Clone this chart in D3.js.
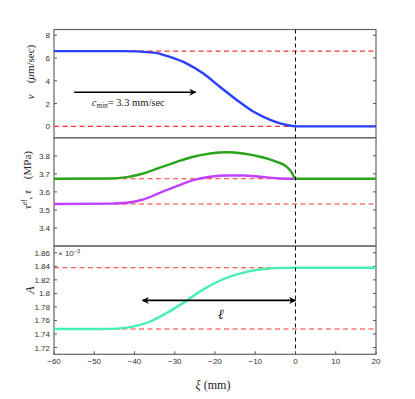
<!DOCTYPE html>
<html>
<head>
<meta charset="utf-8">
<script src="https://cdn.jsdelivr.net/npm/d3@7"></script>
<style>
  body { margin: 0; background: #fff; }
  .tick-label { font-family: 'Liberation Sans', Arial, sans-serif; font-size: 8px; fill: #333; }
  .math { font-family: 'Liberation Serif', 'DejaVu Serif', serif; fill: #222; }
</style>
</head>
<body>
<svg id="chart" width="415" height="399"></svg>
<script>
// positions along the wave, xi (mm)
var xiTicks = [-60, -50, -40, -30, -20, -10, 0, 10, 20];

// velocity v (um/sec)
var vXi = [-60, -43.6, -35.3, -31.2, -27.0, -22.9, -18.8, -14.6, -10.5, -6.3, -2.2, 0, 20];
var vVal = [6.6, 6.6, 6.47, 6.09, 5.51, 4.64, 3.48, 2.32, 1.30, 0.58, 0.12, 0, 0];
var vRefs = [6.6, 0];
var vTicks = [0, 2, 4, 6, 8];

// stresses tau^el (green) and tau (purple), MPa
var tauElXi = [-60, -46.1, -41.9, -37.8, -33.7, -29.5, -25.4, -21.2, -17.1, -13.0, -8.8, -4.7, -2.2, -0.9, 0, 20];
var tauElVal = [3.673, 3.674, 3.682, 3.702, 3.734, 3.767, 3.795, 3.813, 3.820, 3.813, 3.795, 3.767, 3.74, 3.706, 3.673, 3.673];
var tauXi = [-60, -46.1, -41.9, -37.8, -33.7, -29.5, -25.4, -21.2, -17.1, -13.0, -8.8, -4.7, 0];
var tauVal = [3.533, 3.535, 3.540, 3.558, 3.595, 3.632, 3.665, 3.684, 3.691, 3.691, 3.684, 3.676, 3.673];
var tauRefs = [3.673, 3.533];
var tauTicks = [3.4, 3.5, 3.6, 3.7, 3.8];

// A (x 10^-3)
var aXi = [-60, -48.6, -44.4, -40.3, -36.1, -32.0, -27.9, -23.7, -19.6, -15.4, -11.3, -7.2, -3.0, 0, 20];
var aVal = [1.7475, 1.7475, 1.748, 1.751, 1.7585, 1.771, 1.786, 1.803, 1.8165, 1.8265, 1.833, 1.8364, 1.8378, 1.838, 1.838];
var aRefs = [1.838, 1.7475];
var aTicks = [1.72, 1.74, 1.76, 1.78, 1.8, 1.82, 1.84, 1.86];

var svg = d3.select('#chart');

var left = 54, right = 376, plotTop = 29.5, panelH = 108.27;

var x = d3.scaleLinear().domain([-60, 20]).range([left, right]);

var panels = [
  {domain: [-1, 8.5], ticks: vTicks},
  {domain: [3.3, 3.9], ticks: tauTicks},
  {domain: [1.71, 1.87], ticks: aTicks}
];

panels.forEach((p, i) => {
  p.top = plotTop + i * panelH;
  p.y = d3.scaleLinear().domain(p.domain).range([p.top + panelH, p.top]);
});

var defs = svg.append('defs');
defs.append('marker')
  .attr('id', 'head')
  .attr('viewBox', '0 0 10 10')
  .attr('refX', 9).attr('refY', 5)
  .attr('markerWidth', 9).attr('markerHeight', 7)
  .attr('markerUnits', 'userSpaceOnUse')
  .attr('orient', 'auto-start-reverse')
  .append('path')
  .attr('d', 'M0,0 L10,5 L0,10 L3,5 Z')
  .attr('fill', '#000');

var line = (ys) => d3.line().x(d => x(d[0])).y(d => ys(d[1])).curve(d3.curveMonotoneX);
var zip = (a, b) => a.map((v, i) => [v, b[i]]);

function drawFrame(p)
{
  var g = svg.append('g');
  g.append('rect')
    .attr('x', left).attr('y', p.top)
    .attr('width', right - left).attr('height', panelH)
    .attr('fill', 'none').attr('stroke', '#666').attr('stroke-width', 1.2);

  p.ticks.forEach(t => {
    var yy = p.y(t);
    g.append('line').attr('x1', left).attr('x2', left + 3).attr('y1', yy).attr('y2', yy).attr('stroke', '#555');
    g.append('line').attr('x1', right - 3).attr('x2', right).attr('y1', yy).attr('y2', yy).attr('stroke', '#555');
    g.append('text').attr('class', 'tick-label')
      .attr('x', left - 4).attr('y', yy + 3)
      .attr('text-anchor', 'end')
      .text(d3.format('~g')(t).replace('-', '\u2212'));
  });
}

function drawRefs(p, refs)
{
  refs.forEach(r => {
    svg.append('line')
      .attr('x1', x(-60)).attr('x2', x(20))
      .attr('y1', p.y(r)).attr('y2', p.y(r))
      .attr('stroke', '#ff3333').attr('stroke-width', 1.1)
      .attr('stroke-dasharray', '5,3.5');
  });
}

function drawCurve(p, xs, vs, color)
{
  svg.append('path')
    .datum(zip(xs, vs))
    .attr('fill', 'none')
    .attr('stroke', color)
    .attr('stroke-width', 2.4)
    .attr('d', line(p.y));
}

panels.forEach(p => drawFrame(p));

drawRefs(panels[0], vRefs);
drawRefs(panels[1], tauRefs);
drawRefs(panels[2], aRefs);

drawCurve(panels[0], vXi, vVal, '#2b3fff');
drawCurve(panels[1], tauXi, tauVal, '#c040ff');
drawCurve(panels[1], tauElXi, tauElVal, '#2ca31c');
drawCurve(panels[2], aXi, aVal, '#45f0b0');

// front position
svg.append('line')
  .attr('x1', x(0)).attr('x2', x(0))
  .attr('y1', plotTop).attr('y2', plotTop + 3 * panelH)
  .attr('stroke', '#111').attr('stroke-width', 1)
  .attr('stroke-dasharray', '4,3');

// x axis ticks and labels
xiTicks.forEach(t => {
  var yb = plotTop + 3 * panelH;
  svg.append('line').attr('x1', x(t)).attr('x2', x(t)).attr('y1', yb).attr('y2', yb - 3).attr('stroke', '#555');
  svg.append('text').attr('class', 'tick-label')
    .attr('x', x(t)).attr('y', yb + 10)
    .attr('text-anchor', 'middle')
    .text(String(t).replace('-', '\u2212'));
});

// arrow c_min
var p0 = panels[0];
svg.append('line')
  .attr('x1', x(-55)).attr('x2', x(-24.8))
  .attr('y1', p0.y(3.0)).attr('y2', p0.y(3.0))
  .attr('stroke', '#000').attr('stroke-width', 1.6)
  .attr('marker-end', 'url(#head)');

var cmin = svg.append('text').attr('class', 'math')
  .attr('x', x(-50.6)).attr('y', p0.y(1.8))
  .attr('font-size', 10.5);
cmin.append('tspan').attr('font-style', 'italic').text('c');
cmin.append('tspan').attr('font-style', 'italic').attr('font-size', 7.5).attr('dy', 2).text('min');
cmin.append('tspan').attr('dy', -2).text('= 3.3 mm/sec');

// arrow ell
var p2 = panels[2];
svg.append('line')
  .attr('x1', x(-38)).attr('x2', x(0))
  .attr('y1', p2.y(1.7897)).attr('y2', p2.y(1.7897))
  .attr('stroke', '#000').attr('stroke-width', 1.6)
  .attr('marker-start', 'url(#head)')
  .attr('marker-end', 'url(#head)');

svg.append('text').attr('class', 'math')
  .attr('x', x(-18.5)).attr('y', p2.y(1.762))
  .attr('text-anchor', 'middle')
  .attr('font-size', 14).attr('font-style', 'italic')
  .text('\u2113');

// exponent
var ex = svg.append('text').attr('class', 'tick-label')
  .attr('x', 58).attr('y', p2.top + 10).attr('font-size', 7);
ex.append('tspan').text('\u00d7 10');
ex.append('tspan').attr('dy', -3).attr('font-size', 5.5).text('\u22123');

// y labels
var yl1 = svg.append('text').attr('class', 'math')
  .attr('transform', 'translate(34,72) rotate(-90)')
  .attr('text-anchor', 'middle').attr('font-size', 11);
yl1.append('tspan').attr('font-style', 'italic').text('v');
yl1.append('tspan').text('\u2003(');
yl1.append('tspan').attr('font-style', 'italic').text('\u03bc');
yl1.append('tspan').text('m/sec)');

var yl2 = svg.append('text').attr('class', 'math')
  .attr('transform', 'translate(31,180) rotate(-90)')
  .attr('text-anchor', 'middle').attr('font-size', 11);
yl2.append('tspan').attr('font-style', 'italic').text('\u03c4');
yl2.append('tspan').attr('font-style', 'italic').attr('font-size', 7.5).attr('dy', -4).text('el');
yl2.append('tspan').attr('dy', 4).text(', ');
yl2.append('tspan').attr('font-style', 'italic').text('\u03c4');
yl2.append('tspan').text('\u2003(MPa)');

svg.append('text').attr('class', 'math')
  .attr('transform', 'translate(34,290) rotate(-90)')
  .attr('text-anchor', 'middle').attr('font-size', 12)
  .attr('font-style', 'italic')
  .text('A');

// x label
var xl = svg.append('text').attr('class', 'math')
  .attr('x', x(-20.5)).attr('y', 389)
  .attr('text-anchor', 'middle').attr('font-size', 12);
xl.append('tspan').attr('font-style', 'italic').text('\u03be');
xl.append('tspan').text(' (mm)');
</script>
</body>
</html>
